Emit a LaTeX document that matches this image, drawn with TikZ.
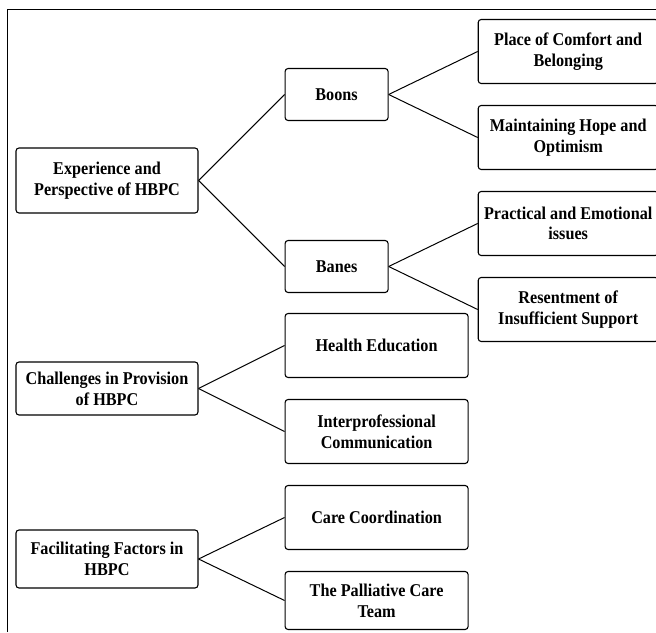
\documentclass[tikz,border=0pt]{standalone}
\usepackage{fontspec}
\setmainfont{Liberation Serif}[FakeStretch=0.9]
\usetikzlibrary{arrows}

\newcommand{\boxfont}{\fontsize{18}{20.7}\selectfont\bfseries}

\tikzset{
  theme/.style={draw, rounded corners=3pt, line width=1.1pt, align=center,
    inner sep=0pt, minimum width=182pt, minimum height=65pt, font=\boxfont},
  topic/.style={theme, minimum width=103pt, minimum height=52pt},
  subtopic/.style={theme, minimum width=180pt, minimum height=64pt},
  midtopic/.style={theme, minimum width=183pt, minimum height=64pt},
}

\begin{document}
\begin{tikzpicture}[x=1pt, y=1pt,
    grow'=right, growth parent anchor=east,
    parent anchor=east, child anchor=west,
    every child node/.style={anchor=west},
    edge from parent/.style={draw, line width=1pt}]
  \useasboundingbox (0,0) rectangle (656,632);
  \draw[line width=1pt] (7,0) -- (7,622) -- (656,622);

  \node[theme] (exp) at (107,451.5) {Experience and\\Perspective of HBPC}
    [level 1/.style={sibling distance=172pt, level distance=86pt},
     level 2/.style={sibling distance=86pt, level distance=89pt}]
    child{node[topic] (boons) {Boons}
      child{node[subtopic] (comfort) {Place of Comfort and\\Belonging}}
      child{node[subtopic] (hope) {Maintaining Hope and\\Optimism}}
    }
    child{node[topic] (banes) {Banes}
      child{node[subtopic] (issues) {Practical and Emotional\\issues}}
      child{node[subtopic] (resent) {Resentment of\\Insufficient Support}}
    };

  \node[theme, minimum height=53pt] (chall) at (107,243.5) {Challenges in Provision\\of HBPC}
    [level 1/.style={sibling distance=86pt, level distance=86pt}]
    child{node[midtopic] (health) {Health Education}}
    child{node[midtopic] (interprof) {Interprofessional\\Communication}};

  \node[theme, minimum height=58pt] (facil) at (107,73) {Facilitating Factors in\\HBPC}
    [level 1/.style={sibling distance=83pt, level distance=86pt}]
    child{node[midtopic] (coord) {Care Coordination}}
    child{node[midtopic, minimum height=58pt] (team) {The Palliative Care\\Team}};
\end{tikzpicture}
\end{document}
